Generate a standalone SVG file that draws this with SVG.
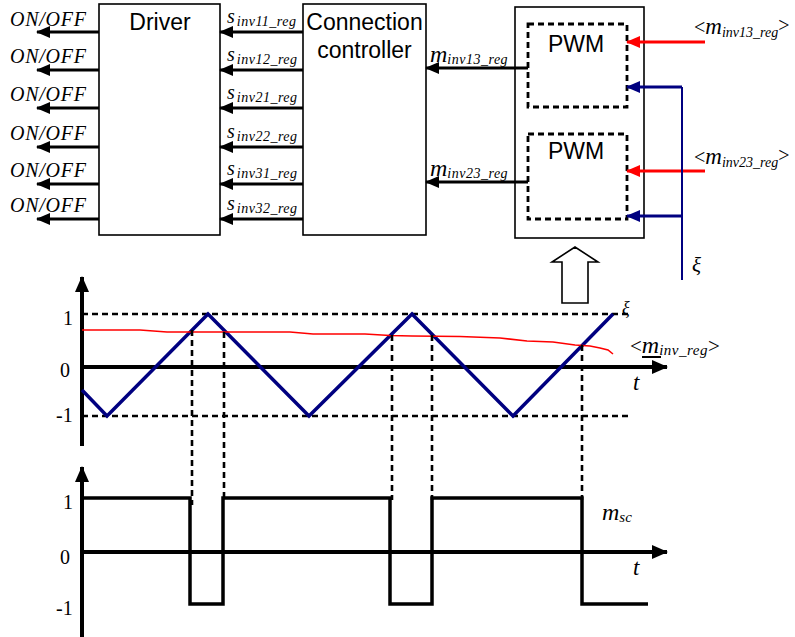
<svg xmlns="http://www.w3.org/2000/svg" width="795" height="637" viewBox="0 0 795 637">
<style>
.box{fill:#fff;stroke:#000;stroke-width:1.6}
.dbox{fill:none;stroke:#000;stroke-width:2.8;stroke-dasharray:6,4}
.sans{font-family:"Liberation Sans",Arial,sans-serif;font-size:23px;fill:#000}
.it{font-family:"Liberation Serif","Times New Roman",serif;font-style:italic;fill:#000}
.rm{font-family:"Liberation Serif","Times New Roman",serif;fill:#000;font-size:20px}
.ar{stroke:#000;stroke-width:3;fill:none;marker-end:url(#ah)}
.red{stroke:#f00;stroke-width:3;fill:none;marker-end:url(#ahr)}
.blu{stroke:#000080;stroke-width:3;fill:none;marker-end:url(#ahb)}
.axis{stroke:#000;stroke-width:4;fill:none;marker-end:url(#ahx)}
.dash{stroke:#000;stroke-width:2.6;fill:none;stroke-dasharray:6,4}
.wave{stroke:#000;stroke-width:3.5;fill:none;stroke-linejoin:miter}
</style>
<defs>
<marker id="ah" markerUnits="userSpaceOnUse" markerWidth="14" markerHeight="12" refX="13" refY="6" orient="auto"><path d="M0,0 L14,6 L0,12 z" fill="#000"/></marker>
<marker id="ahr" markerUnits="userSpaceOnUse" markerWidth="14" markerHeight="12" refX="13" refY="6" orient="auto"><path d="M0,0 L14,6 L0,12 z" fill="#f00"/></marker>
<marker id="ahb" markerUnits="userSpaceOnUse" markerWidth="14" markerHeight="12" refX="13" refY="6" orient="auto"><path d="M0,0 L14,6 L0,12 z" fill="#000080"/></marker>
<marker id="ahx" markerUnits="userSpaceOnUse" markerWidth="16" markerHeight="14" refX="15" refY="7" orient="auto"><path d="M0,0 L16,7 L0,14 z" fill="#000"/></marker>
</defs>

<g id="driver">
<rect class="box" x="99" y="4" width="121" height="231"/>
<text class="sans" x="160" y="30" text-anchor="middle">Driver</text>
</g>
<g id="connection-controller">
<rect class="box" x="303" y="4" width="123" height="231"/>
<text class="sans" x="364.500" y="30" text-anchor="middle">Connection</text>
<text class="sans" x="364.500" y="58" text-anchor="middle">controller</text>
</g>
<g id="pwm-block">
<rect class="box" x="515" y="7" width="129" height="231"/>
</g>
<g id="pwm1">
<rect class="dbox" x="528" y="24" width="99" height="83"/>
<text class="sans" x="576" y="52" text-anchor="middle">PWM</text>
</g>
<g id="pwm2">
<rect class="dbox" x="528" y="134" width="99" height="85"/>
<text class="sans" x="576" y="159" text-anchor="middle">PWM</text>
</g>

<g id="connectors">
<line class="ar" x1="99" y1="32" x2="37" y2="32"/>
<line class="ar" x1="99" y1="70" x2="37" y2="70"/>
<line class="ar" x1="99" y1="108" x2="37" y2="108"/>
<line class="ar" x1="99" y1="147" x2="37" y2="147"/>
<line class="ar" x1="99" y1="184" x2="37" y2="184"/>
<line class="ar" x1="99" y1="219" x2="37" y2="219"/>
<line class="ar" x1="303" y1="32" x2="220" y2="32"/>
<line class="ar" x1="303" y1="70" x2="220" y2="70"/>
<line class="ar" x1="303" y1="108" x2="220" y2="108"/>
<line class="ar" x1="303" y1="147" x2="220" y2="147"/>
<line class="ar" x1="303" y1="184" x2="220" y2="184"/>
<line class="ar" x1="303" y1="219" x2="220" y2="219"/>
<line class="ar" x1="528" y1="68" x2="426" y2="68"/>
<line class="ar" x1="528" y1="182" x2="426" y2="182"/>
<line class="red" x1="705" y1="42" x2="627" y2="42"/>
<line class="red" x1="705" y1="171" x2="627" y2="171"/>
<line x1="682" y1="87" x2="682" y2="280" stroke="#000080" stroke-width="2"/>
<line class="blu" x1="682" y1="87" x2="627" y2="87"/>
<line class="blu" x1="682" y1="216" x2="627" y2="216"/>
<polygon points="562,303 562,262 552,262 575,247 598,262 588,262 588,303" fill="#fff" stroke="#000" stroke-width="1.6"/>
</g>

<g id="labels">
<text class="it" font-size="20" x="10" y="26" textLength="76">ON/OFF</text>
<text class="it" font-size="20" x="10" y="63" textLength="76">ON/OFF</text>
<text class="it" font-size="20" x="10" y="101" textLength="76">ON/OFF</text>
<text class="it" font-size="20" x="10" y="140" textLength="76">ON/OFF</text>
<text class="it" font-size="20" x="10" y="177" textLength="76">ON/OFF</text>
<text class="it" font-size="20" x="10" y="212" textLength="76">ON/OFF</text>
<text class="it" x="227" y="23"><tspan font-size="20">s</tspan><tspan font-size="14" dx="2" dy="3" letter-spacing="0.5">inv11_reg</tspan></text>
<text class="it" x="227" y="61"><tspan font-size="20">s</tspan><tspan font-size="14" dx="2" dy="3" letter-spacing="0.5">inv12_reg</tspan></text>
<text class="it" x="227" y="99"><tspan font-size="20">s</tspan><tspan font-size="14" dx="2" dy="3" letter-spacing="0.5">inv21_reg</tspan></text>
<text class="it" x="227" y="138"><tspan font-size="20">s</tspan><tspan font-size="14" dx="2" dy="3" letter-spacing="0.5">inv22_reg</tspan></text>
<text class="it" x="227" y="175"><tspan font-size="20">s</tspan><tspan font-size="14" dx="2" dy="3" letter-spacing="0.5">inv31_reg</tspan></text>
<text class="it" x="227" y="210"><tspan font-size="20">s</tspan><tspan font-size="14" dx="2" dy="3" letter-spacing="0.5">inv32_reg</tspan></text>
<text class="it" x="430" y="62"><tspan font-size="24">m</tspan><tspan font-size="14" dy="2" letter-spacing="0.5">inv13_reg</tspan></text>
<text class="it" x="430" y="176"><tspan font-size="24">m</tspan><tspan font-size="14" dy="2" letter-spacing="0.5">inv23_reg</tspan></text>
<text class="it" x="694" y="34"><tspan font-size="20" font-style="normal">&lt;</tspan><tspan font-size="23">m</tspan><tspan font-size="14" dy="3">inv13_reg</tspan><tspan font-size="20" font-style="normal" dy="-5">&gt;</tspan></text>
<text class="it" x="694" y="164"><tspan font-size="20" font-style="normal">&lt;</tspan><tspan font-size="23">m</tspan><tspan font-size="14" dy="3">inv23_reg</tspan><tspan font-size="20" font-style="normal" dy="-5">&gt;</tspan></text>
<text class="it" font-size="21" x="692" y="272">ξ</text>
</g>

<g id="plot-top">
<line class="axis" x1="82" y1="446" x2="82" y2="277"/>
<line class="axis" x1="82" y1="367" x2="667" y2="367"/>
<line class="dash" x1="82" y1="314" x2="628" y2="314"/>
<line class="dash" x1="82" y1="416" x2="628" y2="416"/>
<polyline points="82,390 107,416 208,314 309,416 412,314 513,416 613,314" fill="none" stroke="#000080" stroke-width="3.5"/>
<path d="M82,330 L140,330 L167,332 L290,332 L313,334 L365,334 L390,335.500 L412,336 L460,336.500 L500,338 L527,341 L553,342 L575,345 L590,346 L600,348 L608,350 L613,354" fill="none" stroke="#f00" stroke-width="1.6"/>
<text class="rm" x="63" y="325">1</text>
<text class="rm" x="60" y="377">0</text>
<text class="rm" x="56" y="422">-1</text>
<text class="it" font-size="23" x="633" y="390">t</text>
<text class="it" font-size="18" x="622" y="314">ξ</text>
<text class="it" x="630" y="353"><tspan font-size="21" font-style="normal">&lt;</tspan><tspan font-size="24">m</tspan><tspan font-size="15" dy="2" letter-spacing="0.5">inv_reg</tspan><tspan font-size="21" font-style="normal" dy="-2">&gt;</tspan></text>
<line x1="642" y1="357" x2="661" y2="357" stroke="#000" stroke-width="2"/>
</g>

<g id="projections">
<line class="dash" x1="192" y1="330" x2="192" y2="505"/>
<line class="dash" x1="224" y1="332" x2="224" y2="500"/>
<line class="dash" x1="392" y1="335" x2="392" y2="500"/>
<line class="dash" x1="432" y1="335" x2="432" y2="500"/>
<line class="dash" x1="582" y1="345" x2="582" y2="500"/>
</g>

<g id="plot-bottom">
<line class="axis" x1="82" y1="637" x2="82" y2="467"/>
<line class="axis" x1="82" y1="552" x2="667" y2="552"/>
<polyline class="wave" points="82,498 190,498 190,604 223,604 223,498 390,498 390,604 432,604 432,498 582,498 582,604 648,604"/>
<text class="rm" x="63" y="509">1</text>
<text class="rm" x="60" y="564">0</text>
<text class="rm" x="56" y="615">-1</text>
<text class="it" font-size="23" x="633" y="575">t</text>
<text class="it" x="602" y="520"><tspan font-size="24">m</tspan><tspan font-size="15" dy="2">sc</tspan></text>
</g>
</svg>
